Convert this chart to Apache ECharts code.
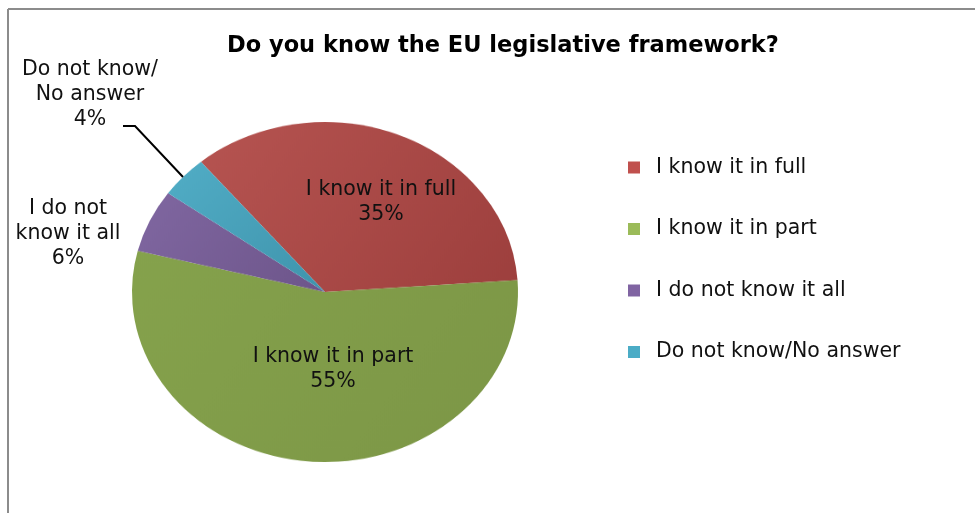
<!DOCTYPE html>
<html>
<head>
<meta charset="utf-8">
<script src="https://cdn.jsdelivr.net/npm/echarts@6/dist/echarts.min.js"></script>
<style>
  html, body { margin: 0; padding: 0; background: #ffffff; }
  #wrap { position: relative; width: 975px; height: 513px; overflow: hidden; }
  #pie, #main { position: absolute; left: 0; top: 0; width: 975px; height: 513px; }
  /* the 3-D style pie is seen at a tilt, so its disc is flattened vertically */
  #pie { transform: scaleY(0.881); transform-origin: 0 292px; }
</style>
</head>
<body>
<div id="wrap">
  <div id="pie"></div>
  <div id="main"></div>
</div>
<script>
// Survey answers
const categories = ['I know it in full', 'I know it in part', 'I do not know it all', 'Do not know/No answer'];
const shares = [35, 55, 6, 4];
// wrapped captions shown next to each slice
const captions = ['I know it in full', 'I know it in part', 'I do not\nknow it all', 'Do not know/\nNo answer'];

const legendColors = ['#c0504d', '#9bbb59', '#8064a2', '#4bacc6'];
const sliceShades = [
  ['#b65451', '#9d3f3d'],
  ['#85a24c', '#7c9646'],
  ['#8067a1', '#6d558a'],
  ['#51adc6', '#3f94ac']
];
const FONT = '"DejaVu Sans", Verdana, sans-serif';

function shade(i) {
  return {
    type: 'linear', x: 0, y: 0, x2: 1, y2: 1,
    colorStops: [{ offset: 0, color: sliceShades[i][0] }, { offset: 1, color: sliceShades[i][1] }]
  };
}

// coloured disc
const pieChart = echarts.init(document.getElementById('pie'), null, { renderer: 'canvas' });
pieChart.setOption({
  animation: false,
  series: [{
    type: 'pie',
    center: [325, 292],
    radius: 193,
    startAngle: 130,
    clockwise: true,
    silent: true,
    label: { show: false },
    labelLine: { show: false },
    data: categories.map((c, i) => ({ name: c, value: shares[i], itemStyle: { color: shade(i) } }))
  }]
});

// title, legend, captions and frame
const labelSpots = [
  { x: 381, y: 202 },
  { x: 333, y: 369 },
  { x: 68, y: 234 },
  { x: 90, y: 95, line: [[123, 126], [135, 126], [183, 177]] }
];

const main = echarts.init(document.getElementById('main'), null, { renderer: 'canvas' });
main.setOption({
  animation: false,
  title: {
    text: 'Do you know the EU legislative framework?',
    left: 222,
    top: 30,
    textStyle: { fontFamily: FONT, fontSize: 22.5, fontWeight: 'bold', color: '#000' }
  },
  legend: {
    orient: 'vertical',
    left: 623,
    top: 152,
    itemWidth: 12,
    itemHeight: 12,
    itemGap: 40.5,
    icon: 'rect',
    selectedMode: false,
    textStyle: { fontFamily: FONT, fontSize: 20.5, color: '#111', padding: [0, 0, 0, 11] },
    data: categories.map((c, i) => ({ name: c, itemStyle: { color: legendColors[i] } }))
  },
  graphic: [
    { type: 'line', shape: { x1: 8, y1: 9, x2: 975, y2: 9 }, style: { stroke: '#8c8c8c', lineWidth: 2 }, silent: true },
    { type: 'line', shape: { x1: 8, y1: 9, x2: 8, y2: 513 }, style: { stroke: '#8c8c8c', lineWidth: 2 }, silent: true }
  ],
  series: [{
    type: 'pie',
    center: [325, 292],
    radius: 193,
    startAngle: 130,
    avoidLabelOverlap: false,
    silent: true,
    emphasis: { disabled: true },
    itemStyle: { color: 'rgba(0,0,0,0)' },
    label: {
      show: true,
      position: 'inside',
      opacity: 1,
      color: '#111',
      fontFamily: FONT,
      fontSize: 20.5,
      lineHeight: 25,
      align: 'center',
      formatter: p => captions[p.dataIndex] + '\n' + p.value + '%'
    },
    labelLine: { show: false },
    labelLayout: p => {
      const s = labelSpots[p.dataIndex];
      const out = { x: s.x, y: s.y, align: 'center', verticalAlign: 'middle' };
      if (s.line) out.labelLinePoints = s.line;
      return out;
    },
    data: categories.map((c, i) => {
      const d = { name: c, value: shares[i] };
      if (i === 3) {
        d.label = { position: 'outside' };
        d.labelLine = { show: true, length: 20, length2: 12, lineStyle: { color: '#000', width: 2, opacity: 1 } };
      }
      return d;
    })
  }]
});
</script>
</body>
</html>
